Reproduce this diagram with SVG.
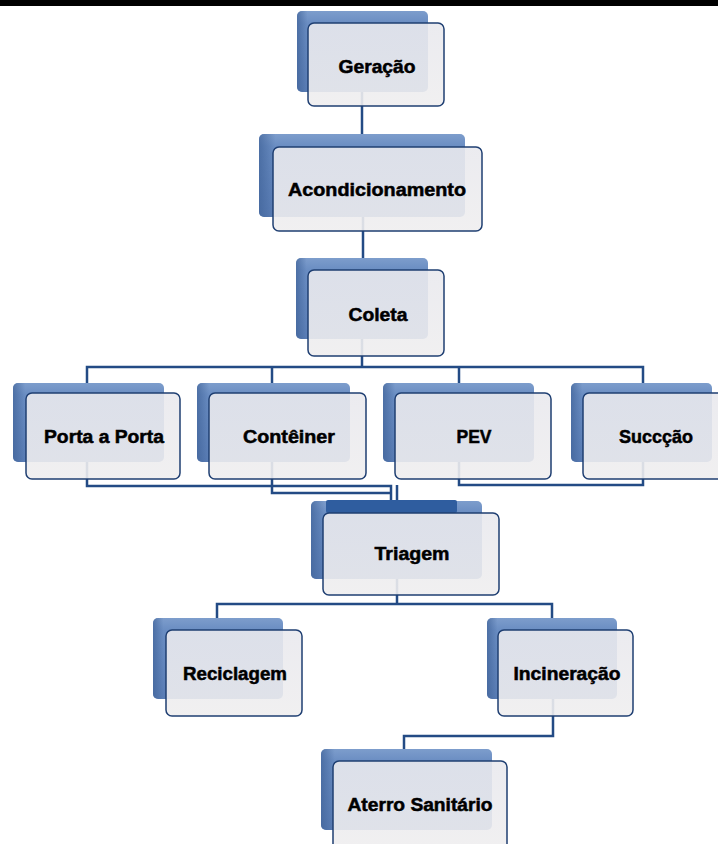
<svg xmlns="http://www.w3.org/2000/svg" width="718" height="844" viewBox="0 0 718 844">
  <defs>
    <linearGradient id="backFill" x1="0" y1="0" x2="0" y2="1">
      <stop offset="0" stop-color="#7d9dcc"/>
      <stop offset="0.15" stop-color="#6a8dc2"/>
      <stop offset="1" stop-color="#5a7db5"/>
    </linearGradient>
    <linearGradient id="backEdge" x1="0" y1="0" x2="1" y2="0">
      <stop offset="0" stop-color="#3f6298" stop-opacity="0.7"/>
      <stop offset="0.08" stop-color="#3f6298" stop-opacity="0"/>
    </linearGradient>
    <linearGradient id="frontFill" x1="0" y1="0" x2="0" y2="1">
      <stop offset="0" stop-color="#e9e9ee"/>
      <stop offset="1" stop-color="#efeeef"/>
    </linearGradient>
  </defs>
  <style>
    .bar { fill: #000000; }
    .back { fill: url(#backFill); }
    .edge { fill: url(#backEdge); }
    .front { fill: url(#frontFill); fill-opacity: 0.9; stroke: #1f3f72; stroke-width: 1.5; }
    .link { fill: none; stroke: #234b85; stroke-width: 2.5; }
    .label { font-family: "Liberation Sans", Arial, sans-serif; font-weight: bold; font-size: 18px; fill: #000000; stroke: #000000; stroke-width: 0.5; text-anchor: middle; }
  </style>

  <rect class="bar" x="0" y="0" width="718" height="6"/>

  <!-- connectors -->
  <g id="connectors">
    <path class="link" d="M362 92 V147"/>
    <path class="link" d="M363 217 V270"/>
    <path class="link" d="M362 339 V367"/>
    <path class="link" d="M87 393 V367 H643 V393"/>
    <path class="link" d="M272 367 V393"/>
    <path class="link" d="M459 367 V393"/>
    <path class="link" d="M87 462 V486 H391 V502"/>
    <path class="link" d="M272 462 V493 H391"/>
    <path class="link" d="M459 462 V485 H643 V462"/>
    <path class="link" d="M397 485 V502"/>
    <path class="link" d="M397 579 V604"/>
    <path class="link" d="M217 630 V604 H552 V630"/>
    <path class="link" d="M553 699 V736 H404 V761"/>
  </g>

  <!-- nodes -->
  <g id="geracao">
    <rect class="back" x="297" y="11" width="131" height="81" rx="5"/>
    <rect class="edge" x="297" y="11" width="131" height="81" rx="5"/>
    <rect class="front" x="308" y="23" width="136" height="83" rx="6"/>
    <text class="label" x="377" y="73" textLength="77" lengthAdjust="spacingAndGlyphs">Geração</text>
  </g>

  <g id="acondicionamento">
    <rect class="back" x="259" y="134" width="206" height="83" rx="5"/>
    <rect class="edge" x="259" y="134" width="206" height="83" rx="5"/>
    <rect class="front" x="273" y="147" width="209" height="84" rx="6"/>
    <text class="label" x="377" y="196" textLength="178" lengthAdjust="spacingAndGlyphs">Acondicionamento</text>
  </g>

  <g id="coleta">
    <rect class="back" x="296" y="258" width="132" height="81" rx="5"/>
    <rect class="edge" x="296" y="258" width="132" height="81" rx="5"/>
    <rect class="front" x="308" y="270" width="136" height="86" rx="6"/>
    <text class="label" x="378" y="321" textLength="59" lengthAdjust="spacingAndGlyphs">Coleta</text>
  </g>

  <g id="porta-a-porta">
    <rect class="back" x="13" y="383" width="151" height="79" rx="5"/>
    <rect class="edge" x="13" y="383" width="151" height="79" rx="5"/>
    <rect class="front" x="26" y="393" width="154" height="86" rx="6"/>
    <text class="label" x="104" y="443" textLength="120" lengthAdjust="spacingAndGlyphs">Porta a Porta</text>
  </g>

  <g id="conteiner">
    <rect class="back" x="197" y="383" width="153" height="79" rx="5"/>
    <rect class="edge" x="197" y="383" width="153" height="79" rx="5"/>
    <rect class="front" x="209" y="393" width="157" height="86" rx="6"/>
    <text class="label" x="289" y="443" textLength="92" lengthAdjust="spacingAndGlyphs">Contêiner</text>
  </g>

  <g id="pev">
    <rect class="back" x="383" y="383" width="151" height="79" rx="5"/>
    <rect class="edge" x="383" y="383" width="151" height="79" rx="5"/>
    <rect class="front" x="395" y="393" width="156" height="86" rx="6"/>
    <text class="label" x="474" y="443" textLength="35" lengthAdjust="spacingAndGlyphs">PEV</text>
  </g>

  <g id="succcao">
    <rect class="back" x="571" y="383" width="141" height="79" rx="5"/>
    <rect class="edge" x="571" y="383" width="141" height="79" rx="5"/>
    <rect class="front" x="583" y="393" width="150" height="86" rx="6"/>
    <text class="label" x="656" y="443" textLength="74" lengthAdjust="spacingAndGlyphs">Succção</text>
  </g>

  <g id="triagem">
    <rect class="back" x="311" y="501" width="171" height="78" rx="5"/>
    <rect class="edge" x="311" y="501" width="171" height="78" rx="5"/>
    <rect x="326" y="500" width="131" height="13" rx="2" fill="#2f5d9f"/>
    <rect class="front" x="323" y="513" width="176" height="82" rx="6"/>
    <text class="label" x="412" y="560" textLength="75" lengthAdjust="spacingAndGlyphs">Triagem</text>
  </g>

  <g id="reciclagem">
    <rect class="back" x="153" y="618" width="130" height="81" rx="5"/>
    <rect class="edge" x="153" y="618" width="130" height="81" rx="5"/>
    <rect class="front" x="166" y="630" width="136" height="86" rx="6"/>
    <text class="label" x="235" y="680" textLength="104" lengthAdjust="spacingAndGlyphs">Reciclagem</text>
  </g>

  <g id="incineracao">
    <rect class="back" x="487" y="618" width="130" height="81" rx="5"/>
    <rect class="edge" x="487" y="618" width="130" height="81" rx="5"/>
    <rect class="front" x="498" y="630" width="135" height="86" rx="6"/>
    <text class="label" x="567" y="680" textLength="107" lengthAdjust="spacingAndGlyphs">Incineração</text>
  </g>

  <g id="aterro-sanitario">
    <rect class="back" x="321" y="749" width="171" height="81" rx="5"/>
    <rect class="edge" x="321" y="749" width="171" height="81" rx="5"/>
    <rect class="front" x="333" y="761" width="174" height="90" rx="6"/>
    <text class="label" x="420" y="811" textLength="145" lengthAdjust="spacingAndGlyphs">Aterro Sanitário</text>
  </g>
</svg>
